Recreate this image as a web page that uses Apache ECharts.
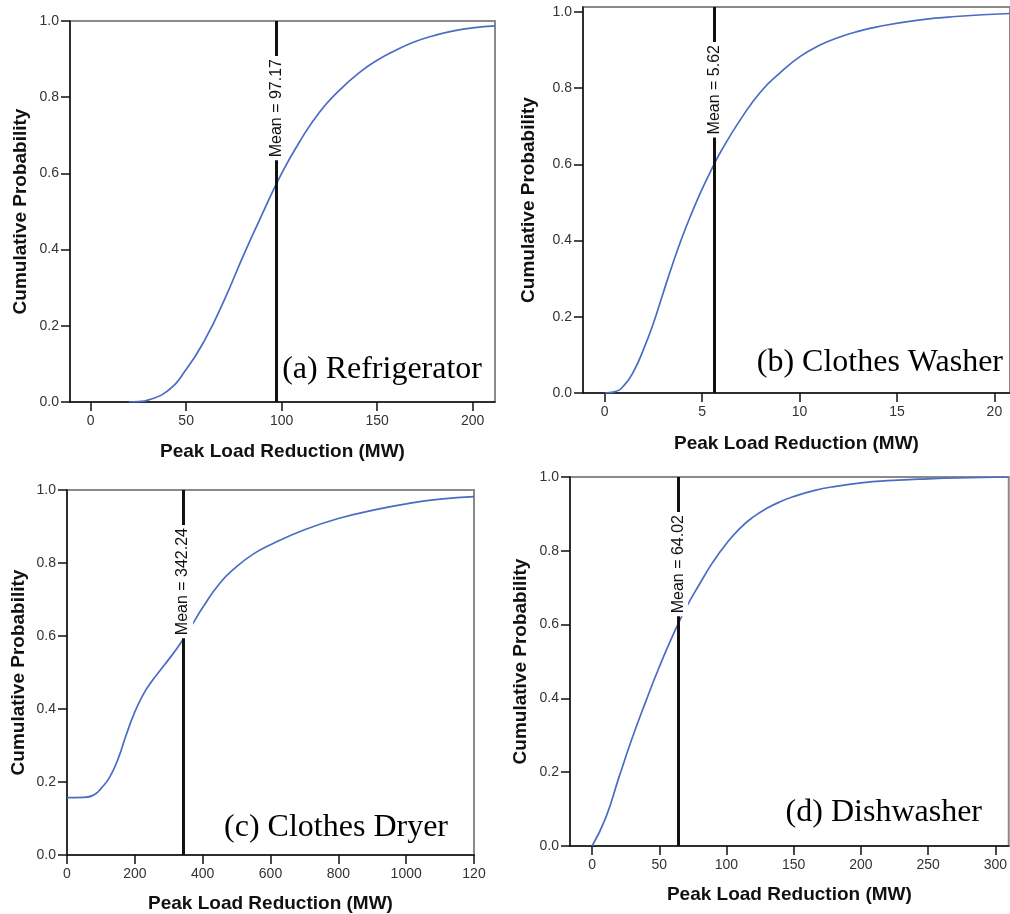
<!DOCTYPE html>
<html>
<head>
<meta charset="utf-8">
<script src="https://cdn.jsdelivr.net/npm/echarts@6/dist/echarts.min.js"></script>
<style>
html,body{margin:0;padding:0;background:#fff;}
#chart{width:1010px;height:914px;}
</style>
</head>
<body>
<div id="chart"></div>
<script>
// ---------------- data ----------------
const panelTitles = ['(a) Refrigerator', '(b) Clothes Washer', '(c) Clothes Dryer', '(d) Dishwasher'];
const means = [97.17, 5.62, 342.24, 64.02];

const refX = [20, 25, 30, 40, 50, 60, 70, 80, 90, 100, 110, 120, 130, 140, 150, 160, 170, 180, 190, 200, 211.7];
const refP = [0, 0.001, 0.005, 0.028, 0.085, 0.165, 0.268, 0.385, 0.495, 0.6, 0.688, 0.762, 0.817, 0.862, 0.897, 0.924, 0.946, 0.962, 0.974, 0.982, 0.987];

const washX = [0, 0.5, 1, 1.5, 2, 2.5, 3, 3.5, 4, 4.5, 5, 5.5, 6, 7, 8, 9, 10, 11, 12, 13, 14, 16, 18, 20.8];
const washP = [0, 0.003, 0.02, 0.058, 0.115, 0.183, 0.262, 0.34, 0.412, 0.476, 0.535, 0.588, 0.637, 0.72, 0.79, 0.84, 0.882, 0.912, 0.933, 0.949, 0.961, 0.978, 0.988, 0.996];

const dryX = [0, 50, 80, 100, 125, 150, 175, 200, 225, 250, 275, 300, 325, 350, 375, 400, 450, 500, 550, 600, 700, 800, 900, 1000, 1100, 1200];
const dryP = [0.157, 0.158, 0.165, 0.182, 0.212, 0.262, 0.33, 0.392, 0.44, 0.476, 0.506, 0.536, 0.567, 0.602, 0.64, 0.678, 0.744, 0.79, 0.825, 0.85, 0.891, 0.922, 0.944, 0.962, 0.975, 0.982];

const dishX = [0, 10, 20, 30, 40, 50, 60, 70, 80, 90, 100, 110, 120, 130, 140, 150, 165, 180, 200, 220, 250, 280, 310];
const dishP = [0, 0.075, 0.186, 0.294, 0.392, 0.485, 0.57, 0.646, 0.71, 0.77, 0.82, 0.861, 0.892, 0.915, 0.933, 0.947, 0.963, 0.974, 0.984, 0.99, 0.995, 0.998, 1.0];

const xTickValsA = [0, 50, 100, 150, 200];
const xTickValsB = [0, 5, 10, 15, 20];
const xTickValsC = [0, 200, 400, 600, 800, 1000, 1200];
const xTickLabelsC = ['0', '200', '400', '600', '800', '1000', '120'];
const xTickValsD = [0, 50, 100, 150, 200, 250, 300];
const yTickVals = [0, 0.2, 0.4, 0.6, 0.8, 1.0];

const xName = 'Peak Load Reduction (MW)';
const yName = 'Cumulative Probability';

// ---------------- layout ----------------
const panels = [
  {x: refX, p: refP, xTicks: xTickValsA, xLabels: null, grid: {left: 70, top: 21, width: 425, height: 381}, xMin: -10.8, xMax: 211.7, yMax: 1, yGap: 40, xGap: 40, title: {x: 482, y: 386}},
  {x: washX, p: washP, xTicks: xTickValsB, xLabels: null, grid: {left: 583, top: 7, width: 429, height: 386}, xMin: -1.11, xMax: 20.8, yMax: 1.013, yGap: 45, xGap: 41, title: {x: 1003, y: 379}},
  {x: dryX, p: dryP, xTicks: xTickValsC, xLabels: xTickLabelsC, grid: {left: 67, top: 490, width: 407, height: 366}, xMin: 0, xMax: 1200, yMax: 1, yGap: 39, xGap: 39, title: {x: 448, y: 844}},
  {x: dishX, p: dishP, xTicks: xTickValsD, xLabels: null, grid: {left: 570, top: 477, width: 443, height: 369}, xMin: -16.4, xMax: 310, yMax: 1, yGap: 40, xGap: 39, title: {x: 982, y: 829}}
];

const sans = 'Arial, "Liberation Sans", sans-serif';
const grids = [], xAxes = [], yAxes = [], series = [], graphics = [];

panels.forEach((pn, i) => {
  grids.push(Object.assign({show: true, borderColor: '#8a8a8a', borderWidth: 2, backgroundColor: 'transparent'}, pn.grid));
  xAxes.push({
    type: 'value', gridIndex: i, min: pn.xMin, max: pn.xMax,
    axisLine: {show: true, onZero: false, lineStyle: {color: '#111', width: 1.5}},
    axisTick: {show: true, customValues: pn.xTicks, length: 9, lineStyle: {color: '#111', width: 1.5}},
    axisLabel: {show: true, customValues: pn.xTicks, margin: 12, color: '#333', fontSize: 14, fontFamily: sans,
      formatter: (v) => { if (pn.xLabels) { const k = pn.xTicks.indexOf(v); return k >= 0 ? pn.xLabels[k] : ''; } return String(v); }},
    splitLine: {show: false},
    name: xName, nameLocation: 'middle', nameGap: pn.xGap,
    nameTextStyle: {fontSize: 19, fontWeight: 'bold', color: '#111', fontFamily: sans}
  });
  yAxes.push({
    type: 'value', gridIndex: i, min: 0, max: pn.yMax,
    axisLine: {show: true, onZero: false, lineStyle: {color: '#111', width: 1.5}},
    axisTick: {show: true, customValues: yTickVals, length: 9, lineStyle: {color: '#111', width: 1.5}},
    axisLabel: {show: true, customValues: yTickVals, margin: 11, color: '#333', fontSize: 14, fontFamily: sans,
      formatter: (v) => v.toFixed(1)},
    splitLine: {show: false},
    name: yName, nameLocation: 'middle', nameGap: pn.yGap, nameRotate: 90,
    nameTextStyle: {fontSize: 19, fontWeight: 'bold', color: '#111', fontFamily: sans}
  });
  series.push({
    type: 'line', xAxisIndex: i, yAxisIndex: i,
    data: pn.x.map((xv, k) => [xv, pn.p[k]]),
    showSymbol: false, smooth: 0.5,
    lineStyle: {color: '#4a6cc4', width: 1.7},
    z: 2, animation: false, silent: true,
    markLine: {
      symbol: 'none', silent: true, animation: false,
      lineStyle: {color: '#111', width: 3, type: 'solid'},
      label: {show: true, position: 'insideEnd', distance: [35, 0], formatter: 'Mean = ' + means[i].toFixed(2),
        backgroundColor: '#fff', padding: [2, 3], color: '#111', fontSize: 16, fontFamily: sans},
      emphasis: {disabled: true},
      data: [{xAxis: means[i]}]
    }
  });
  graphics.push({
    type: 'text', x: pn.title.x, y: pn.title.y, silent: true,
    style: {text: panelTitles[i], font: '32px "Liberation Serif", "Times New Roman", serif', fill: '#000', textAlign: 'right', textVerticalAlign: 'bottom'}
  });
});

const chart = echarts.init(document.getElementById('chart'), null, {renderer: 'canvas'});
chart.setOption({
  animation: false,
  backgroundColor: '#fff',
  grid: grids, xAxis: xAxes, yAxis: yAxes, series: series,
  graphic: graphics
});
</script>
</body>
</html>
